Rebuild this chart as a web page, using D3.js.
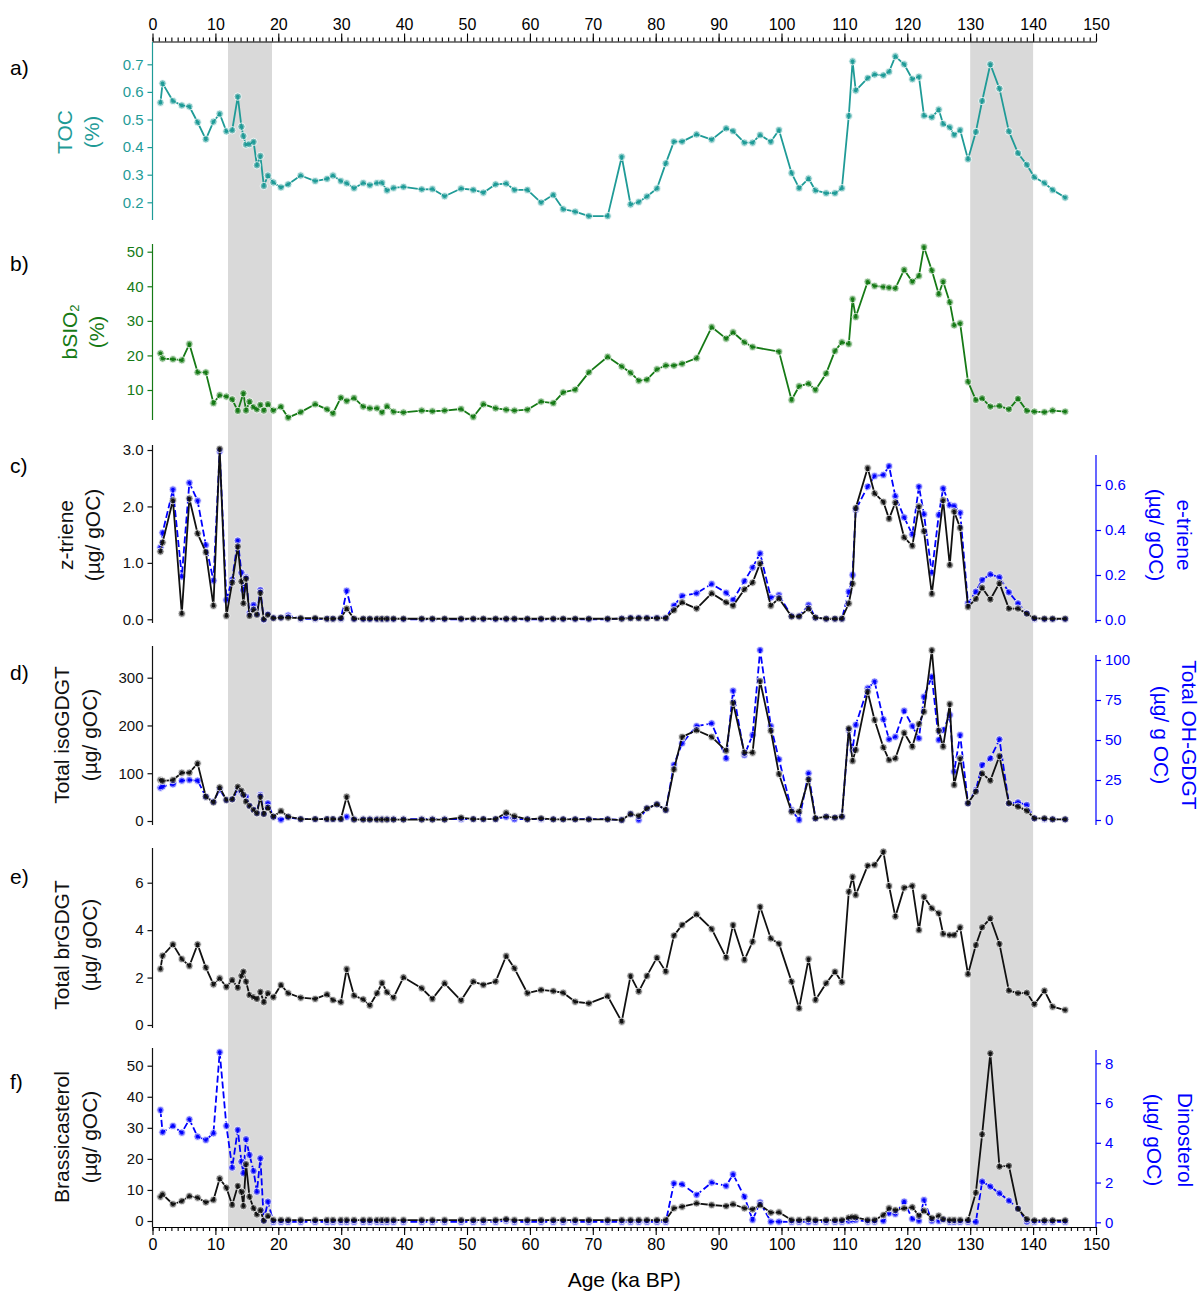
<!DOCTYPE html>
<html>
<head>
<meta charset="utf-8">
<script src="https://d3js.org/d3.v7.min.js"></script>
<style>
  body { margin: 0; background: #fff; }
  svg { font-family: "Liberation Sans", Arial, sans-serif; }
</style>
</head>
<body>
<script>
// sample ages (ka BP), shared by all records
const ages = [1.26, 1.6, 3.25, 4.66, 5.86, 7.17, 8.48, 9.69, 10.68, 11.75,
  12.67, 13.56, 14.14, 14.45, 14.87, 15.42, 16.07, 16.6, 17.15, 17.7,
  18.35, 19.21, 20.42, 21.57, 23.56, 25.86, 27.75, 28.69, 29.95, 30.87,
  32.04, 33.5, 34.55, 35.7, 36.49, 37.28, 38.32, 39.9, 42.8, 44.5,
  46.44, 49.06, 51.0, 52.6, 54.55, 56.23, 57.54, 59.6, 61.78, 63.72,
  65.29, 67.2, 69.37, 72.36, 74.6, 76.0, 77.3, 78.6, 80.2, 81.6,
  82.9, 84.2, 86.5, 88.9, 91.2, 92.3, 94.1, 95.4, 96.6, 98.3,
  99.6, 101.6, 102.8, 104.3, 105.4, 107.1, 108.5, 109.6, 110.7, 111.3,
  111.8, 113.7, 114.8, 116.2, 117.1, 118.1, 119.5, 120.8, 121.85, 122.65,
  123.9, 125.0, 125.7, 126.75, 127.45, 128.4, 129.65, 130.9, 131.9, 133.2,
  134.65, 136.15, 137.6, 139.0, 140.2, 141.8, 143.1, 145.1];

const toc = [0.561, 0.631, 0.567, 0.551, 0.547, 0.49, 0.428, 0.492, 0.521, 0.457,
  0.461, 0.583, 0.474, 0.44, 0.409, 0.411, 0.419, 0.334, 0.368, 0.259,
  0.297, 0.272, 0.254, 0.265, 0.297, 0.277, 0.285, 0.297, 0.277, 0.269,
  0.251, 0.27, 0.262, 0.27, 0.271, 0.243, 0.252, 0.256, 0.247, 0.248,
  0.222, 0.25, 0.245, 0.235, 0.265, 0.268, 0.245, 0.245, 0.199, 0.227,
  0.175, 0.166, 0.15, 0.15, 0.365, 0.192, 0.201, 0.221, 0.25, 0.341,
  0.42, 0.42, 0.446, 0.427, 0.468, 0.458, 0.416, 0.416, 0.444, 0.419,
  0.462, 0.306, 0.251, 0.286, 0.243, 0.233, 0.233, 0.251, 0.513, 0.711,
  0.605, 0.65, 0.663, 0.66, 0.673, 0.729, 0.7, 0.646, 0.655, 0.514,
  0.508, 0.536, 0.484, 0.472, 0.444, 0.462, 0.356, 0.455, 0.567, 0.7,
  0.612, 0.457, 0.378, 0.336, 0.291, 0.27, 0.245, 0.217];

const bsio2 = [20.6, 19.1, 18.9, 18.6, 23.3, 15.1, 15.1, 6.2, 8.5, 8.1,
  7.3, 3.95, null, 9.05, 4.05, 6.65, 5.0, 4.4, 5.7, 4.05,
  5.9, 4.05, 5.2, 2.0, 3.6, 5.9, 4.4, 3.2, 7.8, 6.8,
  7.7, 5.2, 4.7, 4.7, 3.5, 5.3, 3.7, 3.5, 4.05, 3.85,
  4.05, 4.5, 2.2, 5.9, 4.7, 4.3, 4.05, 4.3, 6.65, 6.2,
  9.3, 10.1, 15.1, 19.6, 16.8, 15.0, 12.7, 13.0, 16.0, 17.1,
  17.05, 17.6, 19.2, 28.2, 24.85, 26.7, 23.8, 22.45, null, null,
  21.1, 7.1, 11.1, 11.85, 10.0, 14.8, 21.3, 23.8, 23.3, 36.3,
  31.1, 41.3, 40.1, 39.8, 39.6, 39.4, 44.8, 41.3, 43.0, 51.35,
  44.6, 37.7, 41.4, 35.4, 28.7, 29.3, 12.4, 7.1, 7.6, 5.2,
  5.4, 4.4, 7.5, 4.0, 3.75, 3.6, 4.05, 3.75];

const zTriene = [1.2, 1.36, 2.11, 0.1, 2.14, 1.52, 1.19, 0.24, 3.02, 0.06,
  0.65, 1.29, 0.67, 0.28, 0.72, 0.06, 0.17, 0.08, 0.47, 0.0,
  0.08, 0.02, 0.03, 0.03, 0.02, 0.02, 0.01, 0.01, 0.02, 0.19,
  0.01, 0.01, 0.01, 0.01, 0.01, 0.01, 0.01, 0.01, 0.01, 0.01,
  0.01, 0.01, 0.01, 0.01, 0.01, 0.01, 0.01, 0.01, 0.01, 0.01,
  0.01, 0.01, 0.01, 0.01, 0.01, 0.02, 0.02, 0.02, 0.02, 0.02,
  0.16, 0.3, 0.19, 0.46, 0.3, 0.24, 0.53, 0.65, 0.99, 0.24,
  0.37, 0.05, 0.05, 0.19, 0.03, 0.01, 0.01, 0.01, 0.28, 0.63,
  1.97, 2.68, 2.23, 2.08, 1.78, 2.07, 1.45, 1.3, 2.0, 1.56,
  0.45, null, 2.11, 0.96, 1.91, 1.62, 0.22, 0.36, 0.56, 0.35,
  0.64, 0.19, 0.19, 0.1, 0.02, 0.01, 0.01, 0.01];

const eTriene = [0.323, 0.388, 0.58, 0.193, 0.61, 0.53, 0.333, 0.175, 0.75, 0.089,
  0.18, 0.353, 0.21, 0.133, 0.19, 0.03, 0.067, 0.027, 0.133, 0.0,
  0.027, 0.01, 0.01, 0.02, 0.005, 0.005, 0.005, 0.005, 0.005, 0.13,
  0.003, 0.003, 0.003, 0.003, 0.003, 0.003, 0.003, 0.003, 0.003, 0.003,
  0.003, 0.003, 0.003, 0.003, 0.003, 0.003, 0.003, 0.003, 0.003, 0.003,
  0.003, 0.003, 0.003, 0.003, 0.007, 0.01, 0.01, 0.01, 0.01, 0.01,
  0.064, 0.107, 0.119, 0.16, 0.121, 0.089, 0.173, 0.233, 0.296, 0.1,
  0.111, 0.018, 0.018, 0.067, 0.01, 0.005, 0.005, 0.005, 0.126, 0.2,
  0.49, 0.593, 0.64, 0.645, 0.684, 0.55, 0.456, 0.38, 0.593, 0.47,
  0.21, 0.467, 0.585, 0.51, 0.507, 0.477, 0.074, 0.126, 0.178, 0.203,
  0.19, 0.123, 0.074, 0.03, 0.005, 0.003, 0.003, 0.003];

const isoGdgt = [85.7, 84, 85.7, 101, 101, 120.6, 50.9, 39, 70.4, 43.9,
  45.3, 71.8, 63.4, 55, 40.4, 31.4, 23, 16, 50.9, 14.6,
  27.9, 9, 20.9, 9, 4, 4, 4, 4, 4, 50.9,
  3, 3, 3, 3, 3, 3, 3, 3, 3, 3,
  3, 7, 4, 4, 4, 17.4, 10, 3.5, 5.6, 3.5,
  3.5, 3.5, 3.5, 3.5, 2, 14.6, 10.5, 26.5, 34.9, 23,
  108, 176, 190, 176, 147, 247.6, 143, 143, 292.9, 189,
  98.3, 19.5, 19.5, 87.2, 5.6, 9, 7, 9, 193.9, 125.5,
  148.5, 270.6, 211.3, 154, 127.6, 131, 184.8, 155.5, 203, 228.7,
  357.7, 189, 155.5, 244.8, 75.3, 131, 37, 61.4, 99.7, 84.4,
  136, 37, 30, 21.6, 5.6, 5.6, 3.5, 3.5];

const ohGdgt = [20.2, 21, 22.3, 24.6, 25, 24.6, 14.6, 11.5, 19, 12.5,
  13, 18.75, 17, 15.6, 14.6, 9, 6.5, 4.5, 15.6, 4,
  10.4, 2, 0.2, 1.7, 0.5, 0.5, 0.5, 0.5, 0.5, 2,
  0.5, 0.5, 0.5, 0.5, 0.5, 0.5, 0.5, 0.5, 0.5, 0.5,
  0.5, 0.5, 0.5, 0.5, 0.5, 2, 0.5, 0.5, 0.5, 0.5,
  0.5, 0.5, 0.5, 0.5, 0, 3.75, 0, 7.3, 9.8, 6.25,
  34.4, 47.9, 58.7, 60.4, 38.5, 80.8, 40.6, 53.1, 106.2, 58.7,
  37.9, 6.25, 0, 29.2, 1, 2, 1.5, 2, 56.2, 43.75,
  59.4, 82.3, 86.5, 62.9, 50.4, 52, 68.3, 58.7, 51, 77,
  89.6, 50, 56.2, 65.6, 30.2, 53.1, 10.4, 18.75, 34.4, 38.5,
  50.4, 10.4, 11, 9.4, 1, 0.5, 0.5, 0.3];

const brGdgt = [2.36, 2.92, 3.4, 2.78, 2.49, 3.4, 2.42, 1.71, 1.97, 1.6,
  1.9, 1.57, 2.08, 2.25, 1.83, 1.26, 1.17, 1.1, 1.4, 0.96,
  1.34, 1.17, 1.69, 1.34, 1.15, 1.1, 1.29, 1.05, 0.96, 2.36,
  1.24, 1.08, 0.82, 1.34, 1.78, 1.38, 1.15, 2.01, 1.55, 1.1,
  1.76, 1.03, 1.83, 1.69, 1.83, 2.91, 2.39, 1.34, 1.48, 1.43,
  1.36, 0.98, 0.91, 1.22, 0.14, 2.07, 1.41, 2.07, 2.84, 2.25,
  3.77, 4.22, 4.67, 4.05, 2.84, 4.22, 2.74, 3.51, 4.99, 3.65,
  3.43, 1.83, 0.7, 2.78, 1.05, 1.76, 2.25, 1.8, 5.62, 6.25,
  5.48, 6.72, 6.75, 7.31, 5.86, 4.57, 5.79, 5.87, 4.0, 5.41,
  4.92, 4.71, 3.84, 3.79, 3.79, 4.12, 2.14, 3.37, 4.12, 4.5,
  3.42, 1.45, 1.34, 1.36, 0.87, 1.45, 0.77, 0.63];

const brassicasterol = [7.8, 8.6, 5.4, 6.4, 8.0, 7.5, 6.0, 6.8, 13.7, 10.7,
  5.15, 11.3, 9.4, 4.8, 18.3, 7.8, 4.1, 2.1, 3.5, 0.1,
  1.6, 0.3, 0.3, 0.3, 0.3, 0.3, 0.3, 0.3, 0.3, 0.3,
  0.3, 0.3, 0.3, 0.3, 0.3, 0.3, 0.3, 0.3, 0.3, 0.3,
  0.3, 0.3, 0.3, 0.3, 0.3, 0.6, 0.3, 0.3, 0.3, 0.3,
  0.3, 0.3, 0.3, 0.3, 0.3, 0.3, 0.3, 0.3, 0.3, 0.3,
  4.1, 4.6, 5.7, 5.15, 4.8, 5.4, 4.1, 3.75, 5.15, 2.7,
  2.8, 0.3, 0.3, 0.6, 0.3, 0.3, 0.3, 0.3, 1.1, 1.3,
  1.2, 0.3, 0.3, 1.9, 4.1, 3.5, 4.1, 4.4, 1.7, 3.3,
  0.9, 1.7, 0.6, 0.3, 0.3, 0.3, 0.3, 9.1, 27.9, 54.0,
  17.5, 17.8, 3.9, 0.6, 0.2, 0.2, 0.2, 0.2];

const dinosterol = [5.65, 4.53, 4.85, 4.51, 5.18, 4.31, 4.14, 4.48, 8.56, 4.85,
  2.75, 4.65, 3.05, 2.47, 4.18, 3.39, 2.58, 1.54, 3.22, 0.08,
  1.04, 0.02, 0.02, 0.02, 0.02, 0.02, 0.02, 0.02, 0.02, 0.02,
  0.02, 0.02, 0.02, 0.02, 0.02, 0.02, 0.02, 0.02, 0.02, 0.02,
  0.02, 0.02, 0.02, 0.02, 0.02, 0.08, 0.02, 0.02, 0.02, 0.02,
  0.02, 0.02, 0.02, 0.02, 0.02, 0.02, 0.02, 0.02, 0.02, 0.02,
  1.96, 1.91, 1.38, 2.0, 1.83, 2.42, 1.29, 0.12, 1.0, 0.03,
  0.03, 0.02, 0.02, 0.02, 0.02, 0.02, 0.02, 0.02, 0.07, 0.1,
  0.12, 0.03, 0.03, 0.07, 0.45, 0.42, 1.04, 0.17, 0.07, 1.12,
  0.07, 0.07, 0.12, 0.02, 0.02, 0.02, 0.02, 0.02, 2.05, 1.8,
  1.46, 1.09, 0.7, 0.03, 0.02, 0.02, 0.02, 0.02];

// shaded intervals (ka BP)
const bands = [[12, 19], [130, 140]];

// tick labels
const ageTicks = d3.range(0, 151, 10);
const tocTicks = [0.2, 0.3, 0.4, 0.5, 0.6, 0.7];
const bsioTicks = [10, 20, 30, 40, 50];
const zTicks = [0, 1, 2, 3];
const eTicks = [0, 0.2, 0.4, 0.6];
const isoTicks = [0, 100, 200, 300];
const ohTicks = [0, 25, 50, 75, 100];
const brTicks = [0, 2, 4, 6];
const brassTicks = [0, 10, 20, 30, 40, 50];
const dinoTicks = [0, 2, 4, 6, 8];

const teal = "#1f9b97";
const green = "#167a16";
const blue = "#0000ff";
const black = "#111";

const width = 1203, height = 1293;
const topAxisY = 41.5, bottomAxisY = 1227;

const svg = d3.select("body").append("svg")
    .attr("width", width)
    .attr("height", height);

const x = d3.scaleLinear().domain([0, 150]).range([152.5, 1096]);

// y scales from two reference ticks
const yToc = d3.scaleLinear().domain([0.2, 0.7]).range([202.3, 64.3]);
const yBsio = d3.scaleLinear().domain([10, 50]).range([390, 251.7]);
const yZ = d3.scaleLinear().domain([0, 3]).range([619.3, 450]);
const yE = d3.scaleLinear().domain([0, 0.6]).range([620, 485]);
const yIso = d3.scaleLinear().domain([0, 300]).range([821, 677.7]);
const yOh = d3.scaleLinear().domain([0, 100]).range([820, 660]);
const yBr = d3.scaleLinear().domain([0, 6]).range([1025, 882.7]);
const yBrass = d3.scaleLinear().domain([0, 50]).range([1221, 1065.7]);
const yDino = d3.scaleLinear().domain([0, 8]).range([1222.3, 1063.3]);

// grey intervals
svg.append("g").selectAll("rect")
    .data(bands)
    .join("rect")
    .attr("x", d => x(d[0]))
    .attr("width", d => x(d[1]) - x(d[0]))
    .attr("y", topAxisY)
    .attr("height", bottomAxisY - topAxisY)
    .attr("fill", "#d9d9d9");

function drawSeries(values, y, color, dashed) {
    const pts = ages.map((a, i) => ({a: a, v: values[i]})).filter(d => d.v != null);
    const line = d3.line().x(d => x(d.a)).y(d => y(d.v));
    const g = svg.append("g");
    g.append("path")
        .datum(pts)
        .attr("fill", "none")
        .attr("stroke", color)
        .attr("stroke-width", 1.8)
        .attr("stroke-linejoin", "round")
        .attr("stroke-dasharray", dashed ? "7,3" : null)
        .attr("d", line);
    g.selectAll("circle.o")
        .data(pts)
        .join("circle")
        .attr("class", "o")
        .attr("cx", d => x(d.a))
        .attr("cy", d => y(d.v))
        .attr("r", 3.7)
        .attr("fill", color)
        .attr("fill-opacity", 0.55)
        .attr("stroke", "#fff")
        .attr("stroke-width", 0.8);
    g.selectAll("circle.i")
        .data(pts)
        .join("circle")
        .attr("class", "i")
        .attr("cx", d => x(d.a))
        .attr("cy", d => y(d.v))
        .attr("r", 1.8)
        .attr("fill", color);
}

function leftAxis(y, ticks, fmt, top, bottom, color) {
    const g = svg.append("g")
        .attr("transform", `translate(${x(0)},0)`)
        .call(d3.axisLeft(y).tickValues(ticks).tickFormat(d3.format(fmt)).tickSize(5).tickPadding(4));
    g.select(".domain").remove();
    g.append("line").attr("y1", top).attr("y2", bottom).attr("stroke", color).attr("stroke-width", 1.2);
    g.selectAll(".tick line").attr("stroke", color).attr("stroke-width", 1.2);
    g.selectAll(".tick text").attr("fill", color).attr("font-size", 15).attr("font-family", "Liberation Sans, Arial, sans-serif");
}

function rightAxis(y, ticks, fmt, top, bottom, color) {
    const g = svg.append("g")
        .attr("transform", `translate(${x(150)},0)`)
        .call(d3.axisRight(y).tickValues(ticks).tickFormat(d3.format(fmt)).tickSize(5).tickPadding(4));
    g.select(".domain").remove();
    g.append("line").attr("y1", top).attr("y2", bottom).attr("stroke", color).attr("stroke-width", 1.2);
    g.selectAll(".tick line").attr("stroke", color).attr("stroke-width", 1.2);
    g.selectAll(".tick text").attr("fill", color).attr("font-size", 15).attr("font-family", "Liberation Sans, Arial, sans-serif");
}

// series
drawSeries(toc, yToc, teal, false);
drawSeries(bsio2, yBsio, green, false);
drawSeries(eTriene, yE, blue, true);
drawSeries(zTriene, yZ, black, false);
drawSeries(ohGdgt, yOh, blue, true);
drawSeries(isoGdgt, yIso, black, false);
drawSeries(brGdgt, yBr, black, false);
drawSeries(dinosterol, yDino, blue, true);
drawSeries(brassicasterol, yBrass, black, false);

// y axes
leftAxis(yToc, tocTicks, ".1f", 42, 220, teal);
leftAxis(yBsio, bsioTicks, "d", 244, 420, green);
leftAxis(yZ, zTicks, ".1f", 445, 623, black);
rightAxis(yE, eTicks, ".1f", 455, 623, blue);
leftAxis(yIso, isoTicks, "d", 646, 825, black);
rightAxis(yOh, ohTicks, "d", 655, 825, blue);
leftAxis(yBr, brTicks, "d", 848, 1028, black);
leftAxis(yBrass, brassTicks, "d", 1048, bottomAxisY, black);
rightAxis(yDino, dinoTicks, "d", 1050, bottomAxisY, blue);

// age axes, top and bottom
function ageAxis(axisFn, y, minorDir) {
    const g = svg.append("g").attr("transform", `translate(0,${y})`);
    g.append("g")
        .call(axisFn(x).tickValues(d3.range(0, 151, 1)).tickSize(4).tickFormat(""))
        .call(s => s.select(".domain").remove());
    const major = g.append("g")
        .call(axisFn(x).tickValues(ageTicks).tickSize(8).tickSizeOuter(0).tickPadding(4));
    major.select(".domain").attr("stroke", "#000").attr("stroke-width", 1.2);
    major.selectAll(".tick text").attr("font-size", 16).attr("fill", "#000")
        .attr("font-family", "Liberation Sans, Arial, sans-serif");
    g.selectAll(".tick line").attr("stroke", "#000").attr("stroke-width", 1.1);
}
ageAxis(d3.axisTop, topAxisY);
ageAxis(d3.axisBottom, bottomAxisY);

svg.append("text")
    .attr("x", x(75)).attr("y", 1287)
    .attr("text-anchor", "middle")
    .attr("font-size", 21)
    .text("Age (ka BP)");

// panel letters
const letters = [["a)", 75], ["b)", 271], ["c)", 473], ["d)", 680], ["e)", 884], ["f)", 1089]];
svg.append("g").selectAll("text")
    .data(letters)
    .join("text")
    .attr("x", 10)
    .attr("y", d => d[1])
    .attr("font-size", 21)
    .text(d => d[0]);

// axis titles (rotated)
function vTitle(lines, xs, cy, color, rot) {
    lines.forEach((t, i) => {
        const txt = svg.append("text")
            .attr("transform", `translate(${xs[i]},${cy}) rotate(${rot})`)
            .attr("text-anchor", "middle")
            .attr("dominant-baseline", "central")
            .attr("font-size", 21)
            .attr("fill", color);
        if (Array.isArray(t)) {
            txt.append("tspan").text(t[0]);
            txt.append("tspan").attr("font-size", 13).attr("dy", 5).text(t[1]);
        } else {
            txt.text(t);
        }
    });
}
vTitle(["TOC", "(%)"], [64, 91], 132, teal, -90);
vTitle([["bSIO", "2"], "(%)"], [69, 96], 332, green, -90);
vTitle(["z-triene", "(µg/ gOC)"], [65, 92], 535, black, -90);
vTitle(["Total isoGDGT", "(µg/ gOC)"], [61, 89], 735, black, -90);
vTitle(["Total brGDGT", "(µg/ gOC)"], [61, 89], 945, black, -90);
vTitle(["Brassicasterol", "(µg/ gOC)"], [61, 89], 1137, black, -90);
vTitle(["e-triene", "(µg/ gOC)"], [1184, 1156], 535, blue, 90);
vTitle(["Total OH-GDGT", "(µg/ g OC)"], [1189, 1161], 735, blue, 90);
vTitle(["Dinosterol", "(µg/ gOC)"], [1185, 1154], 1140, blue, 90);
</script>
</body>
</html>
